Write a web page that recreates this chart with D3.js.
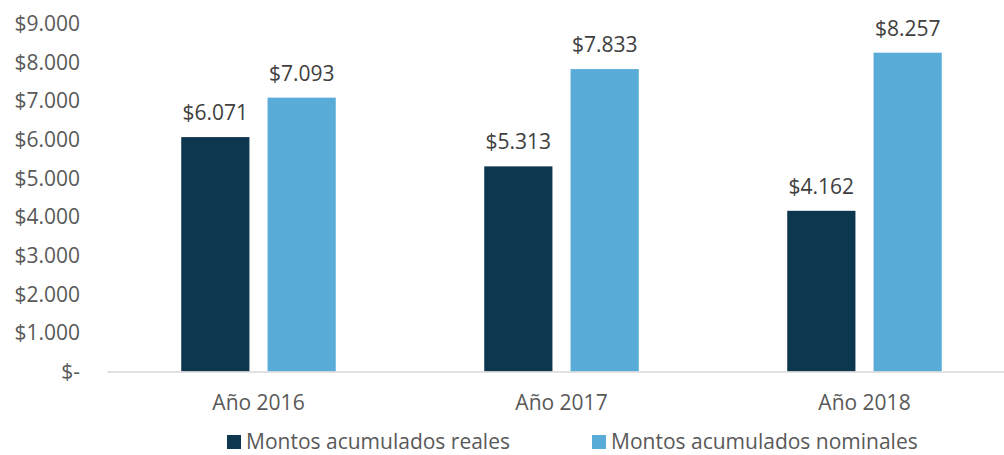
<!DOCTYPE html>
<html>
<head>
<meta charset="utf-8">
<script src="https://cdn.jsdelivr.net/npm/d3@7"></script>
<style>
  body { margin: 0; background: #fff; }
  text { font-family: 'Open Sans', sans-serif; fill: #595959; }
</style>
</head>
<body>
<svg id="chart" width="1004" height="455"></svg>
<script>
let years = ['Año 2016', 'Año 2017', 'Año 2018']
let seriesNames = ['Montos acumulados reales', 'Montos acumulados nominales']
let reales = [6071, 5313, 4162]
let nominales = [7093, 7833, 8257]
let yTicks = [0, 1000, 2000, 3000, 4000, 5000, 6000, 7000, 8000, 9000]
let colors = ['#0d374f', '#5aacd8']

function main() {
    let svg = d3.select('#chart'),
        left = 107, right = 1016, top = 24, bottom = 371.5,
        fontSize = 21

    let fmt = v => v === 0 ? '$-' : '$' + d3.format(',')(v).replace(/,/g, '.')

    let data = years.map((y, i) => ({year: y, values: [reales[i], nominales[i]]}))

    let x0 = d3.scaleBand().domain(years).range([left, right]).paddingInner(0.49).paddingOuter(0.245)
    let x1 = d3.scaleBand().domain([0, 1]).range([0, x0.bandwidth()]).paddingInner(0.21)
    let y = d3.scaleLinear().domain([0, 9000]).range([bottom, top])

    // y axis labels, no line
    let yAxis = svg.append('g')
        .attr('transform', 'translate(80, 0)')
        .call(d3.axisLeft(y).tickValues(yTicks).tickFormat(fmt).tickSize(0).tickPadding(0))
    yAxis.select('.domain').remove()
    yAxis.selectAll('text').attr('font-size', fontSize).attr('font-family', "'Open Sans', sans-serif").attr('fill', '#595959')

    let groups = svg.selectAll('.grp')
        .data(data)
        .enter()
        .append('g')
        .attr('transform', d => 'translate(' + x0(d.year) + ',0)')

    groups.selectAll('rect')
        .data(d => d.values.map((v, k) => ({k: k, v: v})))
        .enter()
        .append('rect')
        .attr('x', d => x1(d.k))
        .attr('y', d => y(d.v))
        .attr('width', x1.bandwidth())
        .attr('height', d => y(0) - y(d.v))
        .attr('fill', d => colors[d.k])

    groups.selectAll('.lbl')
        .data(d => d.values.map((v, k) => ({k: k, v: v})))
        .enter()
        .append('text')
        .attr('x', d => x1(d.k) + x1.bandwidth() / 2)
        .attr('y', d => y(d.v) - 17)
        .attr('text-anchor', 'middle')
        .attr('font-size', fontSize)
        .style('fill', '#404040')
        .text(d => fmt(d.v))

    // baseline
    let xAxis = svg.append('g')
        .attr('transform', 'translate(0,' + bottom + ')')
        .call(d3.axisBottom(x0).tickSize(0).tickPadding(24))
    xAxis.select('.domain').attr('stroke', '#d9d9d9').attr('stroke-width', 1.5)
    xAxis.selectAll('text').attr('font-size', fontSize).attr('font-family', "'Open Sans', sans-serif").attr('fill', '#595959')

    // legend
    let legendX = [227, 592]
    let legend = svg.selectAll('.leg')
        .data(seriesNames)
        .enter()
        .append('g')
        .attr('transform', (d, i) => 'translate(' + legendX[i] + ', 442)')
    legend.append('rect')
        .attr('x', 0).attr('y', -7)
        .attr('width', 14).attr('height', 14)
        .attr('fill', (d, i) => colors[i])
    legend.append('text')
        .attr('x', 19).attr('y', 0)
        .attr('dy', '0.35em')
        .attr('font-size', fontSize)
        .text(d => d)
}

main()
</script>
</body>
</html>
